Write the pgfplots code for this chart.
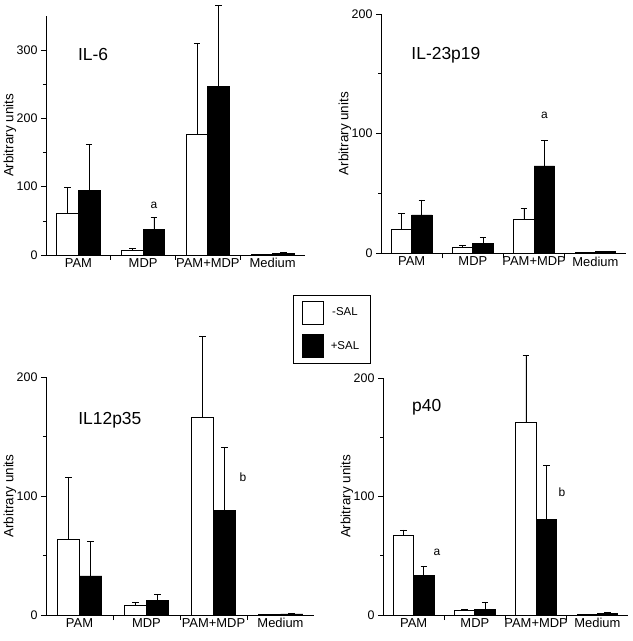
\documentclass[border=0pt]{standalone}
\usepackage{fontspec}
\setmainfont{Liberation Sans}
\usepackage{pgfplots}
\pgfplotsset{compat=1.18}
\pgfplotsset{
  panel/.style={
    scale only axis,
    axis lines=left,
    axis line style={-, line width=0.8bp},
    tick align=outside,
    xmin=-0.5, xmax=3.5, ymin=0,
    clip=false,
    xtick={0.5,1.5,2.5}, xticklabels={},
    extra x ticks={0,1,2,3},
    extra x tick labels={PAM,MDP,PAM+MDP,Medium},
    extra x tick style={major tick length=0pt, ticklabel style={font=\fontsize{13}{13}\selectfont}},
    minor y tick num=1,
    major tick length=5bp, minor tick length=3bp,
    tick style={line width=0.6bp, black},
    /pgf/number format/assume math mode=true,
    ticklabel style={font=\fontsize{12.5}{12.5}\selectfont},
    ylabel={Arbitrary units},
    ylabel style={at={([xshift=-36bp]axis description cs:0,0.5)}, anchor=center, font=\fontsize{13.5}{13.5}\selectfont},
    ybar, bar width=0.3333,
    every axis plot/.append style={line width=0.8bp, draw=black},
    error bars/y dir=plus, error bars/y explicit,
    error bars/error bar style={line width=0.8bp, black},
    error bars/error mark options={rotate=90, line width=0.8bp, black, mark size=3.3bp},
  },
  wbar/.style={fill=white, bar shift=-0.16667},
  kbar/.style={fill=black, bar shift=0.16667},
}
\begin{document}
\begin{tikzpicture}
\useasboundingbox (0,0) rectangle (633bp,641bp);
% IL-6
\begin{axis}[panel, at={(46bp,386bp)}, anchor=south west, width=259bp, height=239bp, ymax=350, ytick={0,100,200,300}]
\addplot[wbar] coordinates {(0,61) +- (0,38) (1,6) +- (0,3) (2,176) +- (0,134) (3,1) +- (0,0)};
\addplot[kbar] coordinates {(0,94) +- (0,68) (1,37) +- (0,18) (2,247) +- (0,119) (3,2.5) +- (0,1)};
\node[anchor=west, font=\fontsize{17.5}{17.5}\selectfont] at (axis cs:-0.06,293) {IL-6};
\node[font=\fontsize{12}{12}\selectfont] at (axis cs:1.1667,73) {a};
\end{axis}
% IL-23p19
\begin{axis}[panel, at={(381bp,387.7bp)}, anchor=south west, width=245bp, height=239.4bp, ymax=200, ytick={0,100,200}]
\addplot[wbar] coordinates {(0,20) +- (0,13) (1,5) +- (0,1.2) (2,28) +- (0,9.6) (3,0.8) +- (0,0)};
\addplot[kbar] coordinates {(0,32) +- (0,12.6) (1,8.4) +- (0,4.6) (2,73) +- (0,21) (3,1.3) +- (0,0.5)};
\node[anchor=west, font=\fontsize{17.5}{17.5}\selectfont] at (axis cs:-0.06,165.6) {IL-23p19};
\node[font=\fontsize{12}{12}\selectfont] at (axis cs:2.1667,115) {a};
\end{axis}
% IL12p35
\begin{axis}[panel, at={(46bp,26bp)}, anchor=south west, width=268bp, height=238bp, ymax=200, ytick={0,100,200},
  legend style={at={(0.9216,1.3445)}, anchor=north west, draw=black, line width=0.8bp,
    font=\fontsize{11.5}{11.5}\selectfont, row sep=10bp, inner xsep=9bp, inner ysep=5.5bp,
    /tikz/every odd column/.append style={column sep=5bp}},
  legend image code/.code={\draw[#1, draw=black, line width=0.8bp] (0bp,-11.3bp) rectangle (20.6bp,11.3bp);}]
\addplot[wbar] coordinates {(0,63.6) +- (0,52.4) (1,7.8) +- (0,2.6) (2,165.8) +- (0,68.2) (3,0.5) +- (0,0)};
\addlegendentry{-SAL}
\addplot[kbar] coordinates {(0,32.8) +- (0,28.8) (1,12) +- (0,5.6) (2,87.7) +- (0,53.3) (3,0.9) +- (0,0.3)};
\addlegendentry{+SAL}
\node[anchor=west, font=\fontsize{17.5}{17.5}\selectfont] at (axis cs:-0.07,164) {IL12p35};
\node[font=\fontsize{12}{12}\selectfont] at (axis cs:2.44,116) {b};
\end{axis}
% p40
\begin{axis}[panel, at={(383bp,26bp)}, anchor=south west, width=245bp, height=237bp, ymax=200, ytick={0,100,200}]
\addplot[wbar] coordinates {(0,66.8) +- (0,5) (1,4.2) +- (0,0.6) (2,162.5) +- (0,56.5) (3,0.5) +- (0,0)};
\addplot[kbar] coordinates {(0,33.2) +- (0,7.6) (1,4.8) +- (0,5.9) (2,80.8) +- (0,45.2) (3,1.3) +- (0,0.5)};
\node[anchor=west, font=\fontsize{17.5}{17.5}\selectfont] at (axis cs:-0.08,175) {p40};
\node[font=\fontsize{12}{12}\selectfont] at (axis cs:0.38,53) {a};
\node[font=\fontsize{12}{12}\selectfont] at (axis cs:2.42,104) {b};
\end{axis}
\end{tikzpicture}
\end{document}
